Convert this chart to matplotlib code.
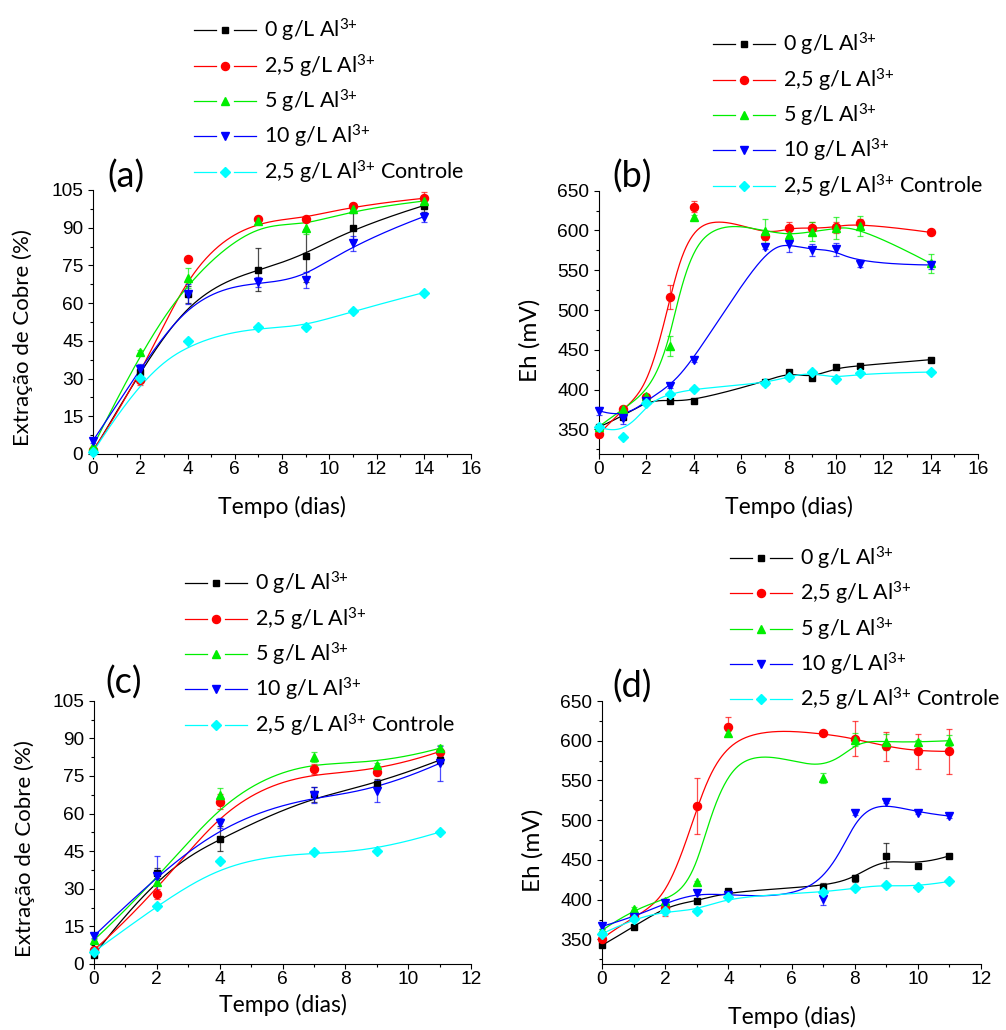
import numpy as np
import matplotlib
matplotlib.use('Agg')
import matplotlib.pyplot as plt
from matplotlib.lines import Line2D
from matplotlib.legend_handler import HandlerBase
from matplotlib.ticker import MultipleLocator

plt.rcParams['font.family'] = ['Lato', 'DejaVu Sans']
plt.rcParams['mathtext.fontset'] = 'custom'
plt.rcParams['mathtext.rm'] = 'Lato'
plt.rcParams['mathtext.default'] = 'regular'

# '{+}' keeps mathtext from spacing the plus like a binary operator
LABELS = ['0 g/L Al$^{3{+}}$', '2,5 g/L Al$^{3{+}}$', '5 g/L Al$^{3{+}}$',
          '10 g/L Al$^{3{+}}$', '2,5 g/L Al$^{3{+}}$ Controle']
COLORS = ['#000000', '#ff0000', '#00ee00', '#0000ff', '#00ffff']
MARKERS = ['s', 'o', '^', 'v', 'D']

# (a) copper extraction, first test
days_a = [0, 2, 4, 7, 9, 11, 14]
ext_a = [
    [1.0, 32.7, 63.5, 73.3, 78.9, 90.0, 98.8],
    [1.5, 29.4, 77.4, 93.3, 93.3, 98.8, 101.7],
    [3.0, 40.7, 70.1, 92.7, 90.0, 97.3, 100.6],
    [5.3, 33.7, 63.5, 68.3, 69.2, 83.8, 94.4],
    [0.8, 30.1, 45.0, 50.4, 50.4, 56.9, 64.2],
]
err_a = [
    [0, 1.5, 3.5, 8.5, 10.5, 5.7, 2.5],
    [0, 2, 0, 1, 0.5, 1, 2.6],
    [0, 0.5, 4, 1, 2.5, 1, 1.5],
    [1, 2, 4, 2, 3.2, 3, 2],
    [0, 0, 0, 0, 0, 0, 0],
]

# (b) Eh, first test
days_b = [0, 1, 2, 3, 4, 7, 8, 9, 10, 11, 14]
eh_b = [
    [353, 366, 387, 386, 386, 410, 421.6, 414.5, 428, 430, 437.6],
    [344, 376, 391, 516, 630, 593, 603.5, 602.7, 604, 609.8, 597.6],
    [353.4, 376, 392, 454.8, 616.5, 599.7, 594.3, 598.5, 602.7, 605.6, 558.7],
    [373.5, 363.8, 386, 404.5, 437.2, 578.8, 583, 575.4, 576.3, 557.8, 556.6],
    [353.4, 340.8, 383.5, 394.4, 401, 408, 416.2, 421.7, 413.3, 420.4, 422],
]
err_b = [
    [0, 3, 2, 1, 1, 2, 2, 2, 2, 2, 1],
    [4, 2, 2, 15, 7, 5, 7, 8, 7, 5, 1],
    [1, 2, 2, 13, 3, 15, 8, 12, 14, 12, 12],
    [5, 7, 2, 2, 2, 2, 10, 8, 8, 4, 5],
    [0, 0, 0, 0, 0, 0, 0, 0, 0, 0, 0],
]

# (c) copper extraction, second test
days_c = [0, 2, 4, 7, 9, 11]
ext_c = [
    [3.6, 36.4, 50.0, 67.6, 71.6, 81.3],
    [5.6, 27.8, 64.7, 77.6, 76.4, 84.7],
    [9.6, 32.8, 67.3, 82.4, 79.3, 86.0],
    [11.2, 35.1, 56.1, 67.4, 69.0, 80.0],
    [4.9, 23.1, 41.1, 44.5, 45.0, 52.6],
]
err_c = [
    [0.5, 2, 5, 3, 2, 1.5],
    [0.5, 2, 3, 2, 1, 1],
    [0.5, 1, 3, 2, 1, 1.5],
    [1, 8, 2, 3, 4.5, 7],
    [0, 0, 0, 0, 0, 0],
]

# (d) Eh, second test
days_d = [0, 1, 2, 3, 4, 7, 8, 9, 10, 11]
eh_d = [
    [342.5, 365.5, 392.6, 398, 410.5, 416.4, 426.8, 455.2, 442.6, 455.2],
    [350.8, 380, 389, 517.7, 617.9, 609.5, 602.4, 592.8, 586.6, 586.6],
    [361.3, 388.4, 398.8, 421.8, 609.5, 553.2, 601.2, 598.3, 598.3, 600],
    [366.3, 378, 395.9, 408, 406, 401, 509, 523.2, 509.4, 505.2],
    [357, 376, 385.5, 386.3, 403.8, 409.2, 414.6, 418.8, 416.3, 423],
]
err_d = [
    [0, 0, 2, 1, 2, 4, 4, 16, 1, 1],
    [2, 2, 10, 35, 12, 0, 22, 18, 22, 28],
    [2, 2, 2, 2, 3, 6, 8, 10, 3, 7],
    [3, 2, 2, 2, 2, 8, 2, 2, 2, 2],
    [0, 0, 5, 0, 0, 0, 0, 0, 0, 0],
]


def bspline(xs, ys, n=400, k=3):
    """Clamped B-spline using the data points as control points (Origin style)"""
    P = np.column_stack([xs, ys]).astype(float)
    m = len(P)
    k = min(k, m - 1)
    t = np.concatenate([np.zeros(k + 1), np.arange(1, m - k),
                        np.full(k + 1, m - k)]).astype(float)
    u = np.linspace(0, m - k, n)
    u[-1] -= 1e-9
    N = np.array([(t[i] <= u) & (u < t[i + 1]) for i in range(len(t) - 1)],
                 dtype=float).T
    for d in range(1, k + 1):
        new = np.zeros((n, len(t) - 1 - d))
        for i in range(len(t) - 1 - d):
            if t[i + d] > t[i]:
                new[:, i] += (u - t[i]) / (t[i + d] - t[i]) * N[:, i]
            if t[i + d + 1] > t[i + 1]:
                new[:, i] += ((t[i + d + 1] - u) / (t[i + d + 1] - t[i + 1])
                              * N[:, i + 1])
        N = new
    C = N @ P
    return C[:, 0], C[:, 1]


class GapHandler(HandlerBase):
    """line - marker - line, with gaps around the marker"""
    def create_artists(self, legend, orig, xdescent, ydescent, width, height,
                       fontsize, trans):
        y = height / 2 - ydescent
        x0 = -xdescent
        c = orig.get_color()
        a1 = Line2D([x0, x0 + 0.36 * width], [y, y], color=c, lw=0.9)
        a2 = Line2D([x0 + 0.64 * width, x0 + width], [y, y], color=c, lw=0.9)
        mk = Line2D([x0 + width / 2], [y], color=c, marker=orig.get_marker(),
                    markersize=orig.get_markersize(), linestyle='none')
        for a in (a1, a2, mk):
            a.set_transform(trans)
        return [a1, a2, mk]


def draw_panel(ax, days, values, errors):
    handles = []
    for vals, errs, col, mk in zip(values, errors, COLORS, MARKERS):
        sx, sy = bspline(days, vals)
        ax.plot(sx, sy, color=col, lw=0.9, clip_on=False)
        errs = np.array(errs, dtype=float)
        mask = errs > 0
        if mask.any():
            ax.errorbar(np.array(days)[mask], np.array(vals)[mask],
                        yerr=errs[mask], fmt='none', ecolor=col, alpha=0.7,
                        elinewidth=0.9, capsize=2.5, capthick=0.9,
                        clip_on=False)
        ms = 5.0 if mk in ('s', 'D') else 5.8
        ax.plot(days, vals, linestyle='none', marker=mk, color=col,
                markersize=ms, clip_on=False, zorder=4)
        handles.append(Line2D([], [], color=col, marker=mk, markersize=ms))
    for side in ('top', 'right'):
        ax.spines[side].set_visible(False)
    ax.tick_params(which='both', direction='out', labelsize=13.8,
                   labelfontfamily='Liberation Sans')
    ax.tick_params(which='major', length=3.5, width=0.8)
    ax.tick_params(which='minor', length=2.2, width=0.8)
    ax.tick_params(axis='x', pad=1.5)
    ax.tick_params(axis='y', pad=3.5)
    ax.xaxis.set_major_locator(MultipleLocator(2))
    ax.xaxis.set_minor_locator(MultipleLocator(1))
    return handles


fig = plt.figure(figsize=(10.06, 10.30), dpi=100)
W, H = 1006, 1030

panels = [
    ('(a)', days_a, ext_a, err_a, (93, 471, 190, 454), 16, 'ext', -0.20,
     (194, 101.5), (126, 177)),
    ('(b)', days_b, eh_b, err_b, (599, 978, 190.7, 454), 16, 'eh', -0.20,
     (713, 115.5), (632, 177)),
    ('(c)', days_c, ext_c, err_c, (94, 471, 700.7, 964), 12, 'ext', -0.156,
     (185, 654.5), (124, 683)),
    ('(d)', days_d, eh_d, err_d, (602, 981, 701, 964), 12, 'eh', -0.201,
     (730, 629), (632, 687)),
]

for tag, days, vals, errs, box, xmax, kind, xlab_y, leg_pos, tag_pos in panels:
    left, right, top, bottom = box
    ax = fig.add_axes([left / W, 1 - bottom / H, (right - left) / W,
                       (bottom - top) / H])
    handles = draw_panel(ax, days, vals, errs)
    ax.set_xlim(0, xmax)
    if kind == 'ext':
        ax.set_ylim(0, 105)
        ax.yaxis.set_major_locator(MultipleLocator(15))
        ax.yaxis.set_minor_locator(MultipleLocator(7.5))
        ax.set_ylabel('Extração de Cobre (%)', fontsize=16, va='center')
        ax.yaxis.set_label_coords(-0.185, 0.44)
    else:
        ax.set_ylim(319, 650)
        ax.yaxis.set_major_locator(MultipleLocator(50))
        ax.yaxis.set_minor_locator(MultipleLocator(25))
        ax.set_ylabel('Eh (mV)', fontsize=17.5, va='center')
        ax.yaxis.set_label_coords(-0.183, 0.433)
    ax.set_xlabel('Tempo (dias)', fontsize=16.5, va='center')
    ax.xaxis.set_label_coords(0.5, xlab_y)

    fig.text(tag_pos[0] / W, 1 - tag_pos[1] / H, tag, fontsize=26,
             ha='center', va='center')
    fig.legend(handles, LABELS, handler_map={Line2D: GapHandler()},
               loc='center left',
               bbox_to_anchor=(leg_pos[0] / W, 1 - leg_pos[1] / H),
               frameon=False, fontsize=15.5, handlelength=2.9,
               handletextpad=0.35, labelspacing=0.38, borderpad=0,
               borderaxespad=0)

fig.savefig('out.png', dpi=100)
